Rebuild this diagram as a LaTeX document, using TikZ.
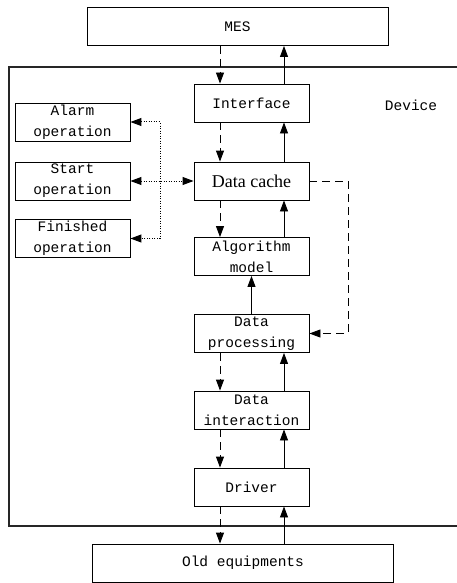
\documentclass[tikz,border=0pt]{standalone}
\usepackage{fontspec}
\usetikzlibrary{arrows.meta}
\newfontfamily\monofont{Liberation Mono}
\newfontfamily\cachefont{Liberation Serif}

\tikzset{
  blk/.style={draw,line width=0.9pt,minimum width=115pt,minimum height=38pt,
    inner sep=0pt,align=center,font=\monofont\fontsize{14.5}{21}\selectfont},
  wideblk/.style={blk,minimum width=301pt},
  dnarrow/.style={line width=0.9pt,dash pattern=on 8pt off 5pt,-{Triangle[length=11pt,width=8pt]}},
  uparrow/.style={line width=0.9pt,-{Triangle[length=11pt,width=8pt]}},
  dotarrow/.style={line width=1pt,dash pattern=on 1pt off 1.5pt,{Triangle[length=11pt,width=8pt]}-{Triangle[length=11pt,width=8pt]}}
}

\begin{document}
\begin{tikzpicture}[x=1pt,y=-1pt]
  \useasboundingbox (0,0) rectangle (457,583);
  \clip (0,0) rectangle (457,583);
  % device frame
  \draw[line width=1.1pt,black!85] (9,67) rectangle (470,526);
  \node[font=\monofont\fontsize{14.5}{17}\selectfont] (device) at (411,105) {Device};
  % blocks
  \node[wideblk] (mes) at (237.5,26.5) {MES};
  \node[blk] (interface) at (251.5,103) {Interface};
  \node[blk,font=\cachefont\fontsize{18}{20}\selectfont] (cache) at (251.5,181) {Data cache};
  \node[blk] (algo) at (251.5,256.5) {Algorithm\\model};
  \node[blk] (proc) at (251.5,333.5) {Data\\processing};
  \node[blk] (inter) at (251.5,410) {Data\\interaction};
  \node[blk] (driver) at (251.5,487) {Driver};
  \node[wideblk] (old) at (243,563) {Old equipments};
  \node[blk] (alarm) at (72.5,122) {Alarm\\operation};
  \node[blk] (start) at (72.5,181) {Start\\operation};
  \node[blk] (finished) at (72.5,238.5) {Finished\\operation};
  % lanes
  \coordinate (dl) at (220,0);
  \coordinate (ul) at (284,0);
  \coordinate (tr) at (160,0);
  \coordinate (fb) at (348,0);
  % downward and upward flow
  \draw[dnarrow] (mes.south -| dl) -- (interface.north -| dl);
  \draw[uparrow] (interface.north -| ul) -- (mes.south -| ul);
  \draw[dnarrow] (interface.south -| dl) -- (cache.north -| dl);
  \draw[uparrow] (cache.north -| ul) -- (interface.south -| ul);
  \draw[dnarrow] (cache.south -| dl) -- (algo.north -| dl);
  \draw[uparrow] (algo.north -| ul) -- (cache.south -| ul);
  \draw[uparrow] (proc.north) -- (algo.south);
  \draw[dnarrow] (proc.south -| dl) -- (inter.north -| dl);
  \draw[uparrow] (inter.north -| ul) -- (proc.south -| ul);
  \draw[dnarrow] (inter.south -| dl) -- (driver.north -| dl);
  \draw[uparrow] (driver.north -| ul) -- (inter.south -| ul);
  \draw[dnarrow] (driver.south -| dl) -- (old.north -| dl);
  \draw[uparrow] (old.north -| ul) -- (driver.south -| ul);
  % operations
  \draw[dotarrow] (alarm.east) -| (tr |- finished.east) -- (finished.east);
  \draw[dotarrow] (start.east) -- (cache.west);
  % feedback
  \draw[dnarrow] (cache.east) -- (cache.east -| fb) |- (proc.east);
\end{tikzpicture}
\end{document}
